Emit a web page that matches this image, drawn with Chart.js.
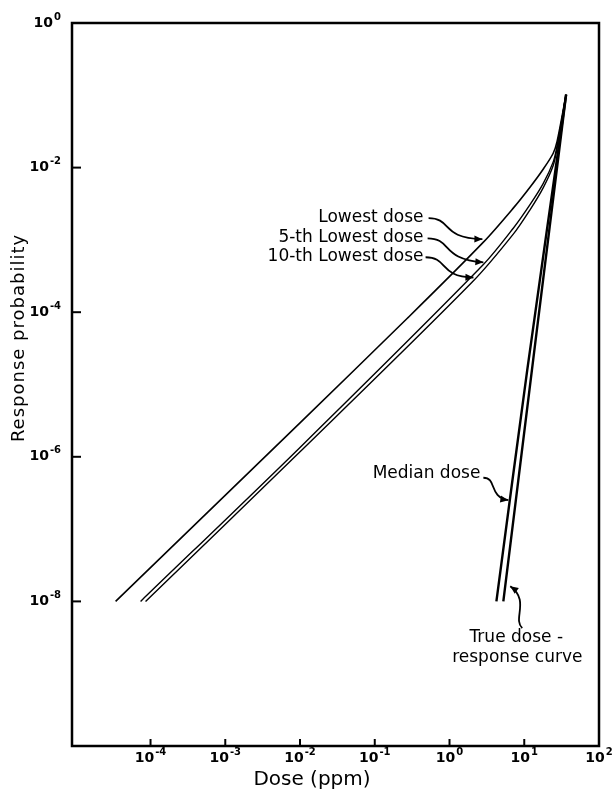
<!DOCTYPE html>
<html>
<head>
<meta charset="utf-8">
<script src="https://cdn.jsdelivr.net/npm/chart.js@4.4.1/dist/chart.umd.min.js"></script>
<style>
  html, body { margin: 0; padding: 0; background: #fff; }
</style>
</head>
<body>
<canvas id="doseChart" width="614" height="793"></canvas>
<script>
// Data (dose in ppm, response probability)
const lowestDose = [3.41e-5, 0.01, 0.275, 2.84, 7.13, 12.0, 17.9, 24.4, 27.5, 36.3];
const lowestProb = [1e-8, 2.95e-6, 8.3e-5, 9.3e-4, 2.75e-3, 5.4e-3, 9.5e-3, 1.58e-2, 2.3e-2, 0.102];

const fifthDose = [7.36e-5, 0.01, 2.84, 7.13, 12.0, 17.9, 24.4, 27.5, 36.3];
const fifthProb = [1e-8, 1.35e-6, 4.57e-4, 1.45e-3, 3.1e-3, 6.0e-3, 1.2e-2, 2.0e-2, 0.102];

const tenthDose = [8.57e-5, 0.01, 2.03, 7.13, 12.0, 17.9, 24.4, 27.5, 36.3];
const tenthProb = [1e-8, 1.17e-6, 2.63e-4, 1.2e-3, 2.63e-3, 5.25e-3, 1.07e-2, 1.86e-2, 0.102];

const medianDose = [4.24, 10.96, 36.3];
const medianProb = [1e-8, 1.58e-5, 0.102];

const trueDose = [5.25, 13.2, 36.3];
const trueProb = [1e-8, 2.24e-5, 0.102];

const xTickValues = [1e-4, 1e-3, 1e-2, 1e-1, 1e0, 1e1, 1e2];
const yTickValues = [1e0, 1e-2, 1e-4, 1e-6, 1e-8];

// text labels and curly pointers, in log10 data units
const labels = [
  { text: "Lowest dose", lx: -0.347, ly: -2.69, align: "right" },
  { text: "5-th Lowest dose", lx: -0.347, ly: -2.97, align: "right" },
  { text: "10-th Lowest dose", lx: -0.347, ly: -3.23, align: "right" },
  { text: "Median dose", lx: 0.413, ly: -6.23, align: "right" },
  { text: "True dose -", lx: 0.893, ly: -8.5, align: "center" },
  { text: "response curve", lx: 0.907, ly: -8.78, align: "center" },
];
const pointers = [
  [[-0.28, -2.7], [0.04, -2.7], [-0.12, -2.98], [0.44, -2.99]],
  [[-0.293, -2.98], [0.04, -2.98], [-0.12, -3.27], [0.453, -3.31]],
  [[-0.32, -3.24], [-0.013, -3.24], [-0.147, -3.51], [0.32, -3.52]],
  [[0.453, -6.29], [0.64, -6.29], [0.52, -6.56], [0.787, -6.6]],
  [[0.973, -8.37], [0.84, -8.24], [1.08, -7.99], [0.813, -7.79]],
];

const FONT = "'DejaVu Sans', sans-serif";
const BASE_FONT = "bold 14px " + FONT;
const EXP_FONT = "bold 10px " + FONT;

const toPoints = (xs, ys) => xs.map((x, i) => ({ x: x, y: ys[i] }));
const lineStyle = (w) => ({
  borderColor: "#000",
  borderWidth: w,
  pointRadius: 0,
  fill: false,
  tension: 0.3,
});

// draws "10" with a raised exponent; (x, y) is where the label is anchored
function drawPower(ctx, v, x, y, anchor) {
  const exp = String(Math.round(Math.log10(v)));
  ctx.font = BASE_FONT;
  const wb = ctx.measureText("10").width;
  ctx.font = EXP_FONT;
  const we = ctx.measureText(exp).width + 1;
  const left = anchor === "right" ? x - wb - we : x - (wb + we) / 2;
  ctx.textAlign = "left";
  ctx.textBaseline = "middle";
  ctx.font = BASE_FONT;
  ctx.fillText("10", left, y);
  ctx.font = EXP_FONT;
  ctx.fillText(exp, left + wb + 1, y - 6);
}

const decorPlugin = {
  id: "decor",
  afterDraw(chart) {
    const ctx = chart.ctx;
    const xs = chart.scales.x, ys = chart.scales.y;
    const a = chart.chartArea;
    const P = (lx, ly) => [xs.getPixelForValue(Math.pow(10, lx)), ys.getPixelForValue(Math.pow(10, ly))];
    ctx.save();
    ctx.strokeStyle = "#000";
    ctx.fillStyle = "#000";

    // frame
    ctx.lineWidth = 2.5;
    ctx.strokeRect(a.left, a.top, a.right - a.left, a.bottom - a.top);

    // inward tick marks and labels
    ctx.lineWidth = 2;
    xTickValues.forEach((v) => {
      const px = xs.getPixelForValue(v);
      ctx.beginPath(); ctx.moveTo(px, a.bottom); ctx.lineTo(px, a.bottom - 7); ctx.stroke();
      drawPower(ctx, v, px, a.bottom + 12, "center");
    });
    yTickValues.forEach((v) => {
      const py = ys.getPixelForValue(v);
      ctx.beginPath(); ctx.moveTo(a.left, py); ctx.lineTo(a.left + 9, py); ctx.stroke();
      drawPower(ctx, v, a.left - 11, py, "right");
    });

    // axis titles
    ctx.textAlign = "center";
    ctx.textBaseline = "middle";
    ctx.font = "20px " + FONT;
    ctx.fillText("Dose (ppm)", 312, 780);
    ctx.save();
    ctx.translate(19, 338);
    ctx.rotate(-Math.PI / 2);
    ctx.font = "18px " + FONT;
    ctx.letterSpacing = "1px";
    ctx.fillText("Response probability", 0, 0);
    ctx.restore();

    // annotation text
    ctx.font = "17px " + FONT;
    labels.forEach((l) => {
      const p = P(l.lx, l.ly);
      ctx.textAlign = l.align;
      ctx.fillText(l.text, p[0], p[1]);
    });

    // curly pointers with heads
    ctx.lineWidth = 1.8;
    pointers.forEach((c) => {
      const p = c.map((q) => P(q[0], q[1]));
      ctx.beginPath();
      ctx.moveTo(p[0][0], p[0][1]);
      ctx.bezierCurveTo(p[1][0], p[1][1], p[2][0], p[2][1], p[3][0], p[3][1]);
      ctx.stroke();
      const ang = Math.atan2(p[3][1] - p[2][1], p[3][0] - p[2][0]);
      ctx.beginPath();
      ctx.moveTo(p[3][0], p[3][1]);
      ctx.lineTo(p[3][0] - 8 * Math.cos(ang) + 3.5 * Math.sin(ang), p[3][1] - 8 * Math.sin(ang) - 3.5 * Math.cos(ang));
      ctx.lineTo(p[3][0] - 8 * Math.cos(ang) - 3.5 * Math.sin(ang), p[3][1] - 8 * Math.sin(ang) + 3.5 * Math.cos(ang));
      ctx.closePath();
      ctx.fill();
    });
    ctx.restore();
  },
};

const hiddenGrid = {
  display: true,
  drawOnChartArea: false,
  drawTicks: true,
  tickLength: 0,
  color: "rgba(0,0,0,0)",
};

const ctx = document.getElementById("doseChart").getContext("2d");
const doseChart = new Chart(ctx, {
  type: "line",
  data: {
    datasets: [
      { label: "Lowest dose", data: toPoints(lowestDose, lowestProb), ...lineStyle(1.6) },
      { label: "5-th Lowest dose", data: toPoints(fifthDose, fifthProb), ...lineStyle(1.4) },
      { label: "10-th Lowest dose", data: toPoints(tenthDose, tenthProb), ...lineStyle(1.4) },
      { label: "Median dose", data: toPoints(medianDose, medianProb), ...lineStyle(2.4) },
      { label: "True dose-response curve", data: toPoints(trueDose, trueProb), ...lineStyle(2.4) },
    ],
  },
  options: {
    responsive: false,
    animation: false,
    devicePixelRatio: 1,
    layout: { padding: { top: 23, right: 15, left: 0, bottom: 0 } },
    plugins: { legend: { display: false }, tooltip: { enabled: false } },
    scales: {
      x: {
        type: "logarithmic",
        min: 8.9e-6,
        max: 100,
        grid: hiddenGrid,
        border: { display: false },
        afterBuildTicks: (s) => { s.ticks = xTickValues.map((v) => ({ value: v })); },
        afterFit: (s) => { s.height = 47; },
        ticks: { display: false },
      },
      y: {
        type: "logarithmic",
        min: 1e-10,
        max: 1,
        grid: hiddenGrid,
        border: { display: false },
        afterBuildTicks: (s) => { s.ticks = yTickValues.map((v) => ({ value: v })); },
        afterFit: (s) => { s.width = 72; },
        ticks: { display: false },
      },
    },
  },
  plugins: [decorPlugin],
});
</script>
</body>
</html>
